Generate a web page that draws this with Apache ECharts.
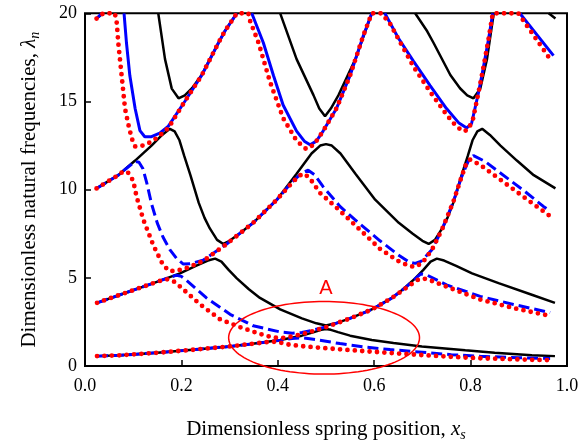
<!DOCTYPE html>
<html><head><meta charset="utf-8">
<script src="https://cdn.jsdelivr.net/npm/echarts/dist/echarts.min.js"></script>
<style>html,body{margin:0;padding:0;background:#fff}#c{width:583px;height:447px}</style>
</head><body><div id="c"></div>
<script>
// ---- axis ticks ----
const xTickValues = [0, 0.2, 0.4, 0.6, 0.8, 1.0];
const yTickValues = [0, 5, 10, 15, 20];

// ---- black solid (symmetric model), modes 1..4 ----
const black1 = [[0.025,0.56],[0.073,0.61],[0.15,0.75],[0.211,0.89],[0.301,1.11],[0.36,1.3],[0.405,1.47],[0.45,1.72],[0.475,1.92],[0.49,2.05],[0.5,2.1],[0.51,2.05],[0.525,1.92],[0.55,1.72],[0.595,1.47],[0.64,1.3],[0.699,1.11],[0.789,0.89],[0.85,0.75],[0.927,0.61],[0.975,0.56]];
const black2 = [[0.025,3.58],[0.073,4.04],[0.142,4.7],[0.197,5.25],[0.23,5.68],[0.255,5.98],[0.27,6.09],[0.283,5.92],[0.298,5.45],[0.315,4.97],[0.34,4.35],[0.363,3.86],[0.405,3.21],[0.45,2.7],[0.48,2.42],[0.5,2.3],[0.52,2.42],[0.55,2.7],[0.595,3.21],[0.637,3.86],[0.66,4.35],[0.685,4.97],[0.702,5.45],[0.717,5.92],[0.73,6.09],[0.745,5.98],[0.77,5.68],[0.803,5.25],[0.858,4.7],[0.927,4.04],[0.975,3.58]];
const black3 = [[0.024,10.07],[0.069,10.82],[0.104,11.65],[0.138,12.5],[0.16,13.1],[0.176,13.45],[0.186,13.3],[0.196,12.8],[0.206,11.9],[0.219,10.8],[0.236,9.25],[0.248,8.4],[0.259,7.8],[0.274,7.15],[0.287,6.92],[0.3,7.1],[0.32,7.5],[0.349,8.12],[0.398,9.43],[0.439,10.9],[0.47,12.05],[0.488,12.5],[0.5,12.58],[0.512,12.5],[0.53,12.05],[0.561,10.9],[0.602,9.43],[0.651,8.12],[0.68,7.5],[0.7,7.1],[0.713,6.92],[0.726,7.15],[0.741,7.8],[0.752,8.4],[0.764,9.25],[0.781,10.8],[0.794,11.9],[0.804,12.8],[0.814,13.3],[0.824,13.45],[0.84,13.1],[0.862,12.5],[0.896,11.65],[0.931,10.82],[0.976,10.07]];
const black4 = [[0.024,19.7],[0.038,20],[0.09,'-'],[0.152,20],[0.166,17.4],[0.18,15.73],[0.194,15.18],[0.207,15.35],[0.222,15.75],[0.242,16.5],[0.277,18.33],[0.29,18.98],[0.315,20],[0.36,'-'],[0.405,20],[0.439,17.4],[0.474,15.36],[0.486,14.6],[0.498,14.16],[0.51,14.6],[0.526,15.36],[0.561,17.4],[0.595,20],[0.64,'-'],[0.685,20],[0.71,18.98],[0.723,18.33],[0.758,16.5],[0.778,15.75],[0.793,15.35],[0.806,15.18],[0.82,15.73],[0.834,17.4],[0.848,20],[0.9,'-'],[0.962,20],[0.976,19.7]];

// ---- blue model: modes 1-3 dashed, mode 4 solid ----
const blue1 = [[0.025,0.56],[0.073,0.61],[0.15,0.75],[0.211,0.89],[0.301,1.11],[0.36,1.3],[0.405,1.46],[0.43,1.56],[0.45,1.6],[0.47,1.53],[0.5,1.4],[0.529,1.27],[0.58,1.08],[0.633,0.93],[0.7,0.78],[0.76,0.64],[0.82,0.55],[0.9,0.47],[0.965,0.43]];
const blue2 = [[0.025,3.58],[0.073,4.04],[0.142,4.7],[0.175,5.02],[0.19,5.15],[0.2,5.08],[0.211,4.85],[0.252,3.86],[0.301,2.93],[0.349,2.28],[0.405,1.93],[0.43,1.86],[0.45,1.9],[0.47,2.02],[0.5,2.22],[0.55,2.7],[0.595,3.2],[0.637,3.86],[0.665,4.45],[0.685,4.95],[0.697,5.22],[0.71,5.15],[0.75,4.6],[0.82,3.95],[0.889,3.49],[0.965,3.03]];
const blue3 = [[0.024,10.07],[0.069,10.82],[0.09,11.3],[0.104,11.6],[0.112,11.55],[0.12,11.2],[0.128,10.4],[0.138,9.2],[0.15,8.1],[0.162,7.3],[0.176,6.6],[0.19,6.1],[0.204,5.78],[0.218,5.8],[0.245,6.0],[0.294,6.92],[0.349,8.12],[0.398,9.43],[0.43,10.45],[0.45,10.95],[0.463,11.1],[0.476,10.85],[0.494,10.17],[0.529,9.05],[0.56,8.3],[0.612,7.1],[0.65,6.3],[0.672,5.9],[0.685,5.82],[0.698,5.95],[0.72,6.6],[0.741,7.76],[0.764,9.3],[0.781,10.7],[0.795,11.6],[0.806,11.93],[0.83,11.6],[0.854,11.1],[0.909,9.98],[0.951,9.05],[0.965,8.78]];
const blue4 = [[0.024,19.7],[0.035,20],[0.06,'-'],[0.081,20],[0.086,18.33],[0.093,16.47],[0.104,14.6],[0.114,13.35],[0.124,13.0],[0.138,13.0],[0.155,13.2],[0.173,13.6],[0.207,15.0],[0.242,16.47],[0.277,18.33],[0.29,18.98],[0.315,20],[0.33,'-'],[0.346,20],[0.37,18.33],[0.391,16.47],[0.411,14.8],[0.439,13.32],[0.455,12.75],[0.467,12.54],[0.48,12.75],[0.494,13.32],[0.522,14.62],[0.55,16.47],[0.577,18.7],[0.595,20],[0.61,'-'],[0.622,20],[0.65,18.6],[0.681,17.3],[0.716,15.9],[0.75,14.6],[0.775,13.8],[0.792,13.5],[0.802,13.75],[0.816,15.45],[0.826,16.85],[0.837,18.5],[0.846,20],[0.87,'-'],[0.902,20],[0.972,17.6]];

// ---- red dotted model, modes 1..4 ----
const red1 = [[0.025,0.56],[0.073,0.61],[0.15,0.75],[0.211,0.89],[0.301,1.11],[0.36,1.3],[0.38,1.36],[0.395,1.38],[0.41,1.3],[0.425,1.2],[0.46,1.1],[0.494,1.02],[0.55,0.9],[0.633,0.74],[0.7,0.62],[0.76,0.52],[0.82,0.44],[0.9,0.37],[0.965,0.33]];
const red2 = [[0.025,3.58],[0.073,4.04],[0.142,4.7],[0.16,4.87],[0.172,4.92],[0.185,4.78],[0.197,4.51],[0.239,3.49],[0.28,2.65],[0.322,2.2],[0.349,1.95],[0.37,1.76],[0.39,1.62],[0.405,1.58],[0.42,1.62],[0.45,1.8],[0.5,2.2],[0.55,2.7],[0.595,3.2],[0.637,3.86],[0.67,4.5],[0.69,4.88],[0.702,4.97],[0.72,4.82],[0.75,4.5],[0.82,3.77],[0.89,3.28],[0.965,2.84]];
const red3 = [[0.024,10.07],[0.069,10.82],[0.08,11.05],[0.09,10.95],[0.1,10.5],[0.107,9.6],[0.121,8.3],[0.142,6.83],[0.162,5.72],[0.175,5.38],[0.19,5.4],[0.21,5.55],[0.245,5.95],[0.294,6.92],[0.349,8.12],[0.398,9.43],[0.43,10.4],[0.445,10.8],[0.456,10.9],[0.47,10.5],[0.488,9.8],[0.519,9.05],[0.56,8.0],[0.612,6.64],[0.65,5.95],[0.672,5.68],[0.685,5.62],[0.7,5.85],[0.72,6.6],[0.741,7.76],[0.764,9.3],[0.781,10.7],[0.79,11.4],[0.799,11.7],[0.82,11.4],[0.854,10.72],[0.909,9.61],[0.937,9.05],[0.965,8.5]];
const red4 = [[0.024,19.7],[0.038,20],[0.062,20],[0.066,19.44],[0.069,18.33],[0.076,16.47],[0.083,14.6],[0.09,13.69],[0.097,12.9],[0.104,12.45],[0.114,12.45],[0.13,12.6],[0.15,12.95],[0.173,13.5],[0.207,15.0],[0.242,16.47],[0.277,18.33],[0.29,18.98],[0.315,20],[0.339,20],[0.342,19.6],[0.36,18.33],[0.384,16.1],[0.411,14.06],[0.439,12.77],[0.459,12.3],[0.475,12.55],[0.494,13.32],[0.522,14.62],[0.55,16.47],[0.577,18.7],[0.595,20],[0.615,20],[0.633,19.4],[0.681,17.0],[0.716,15.55],[0.75,14.25],[0.77,13.6],[0.785,13.3],[0.795,13.4],[0.805,14.0],[0.816,15.45],[0.826,16.85],[0.837,18.5],[0.846,20],[0.899,20],[0.965,17.4]];

// ---- annotation (data coordinates) ----
const ellipseCenter = [0.496, 1.6];
const ellipseRadii = [0.198, 2.06];
const annotLabel = 'A';
const annotPos = [0.50, 4.4];

const serif = 'Liberation Serif';
const BLACK = {color:'#000000', width:2.5, type:'solid'};
const BLUE_SOLID = {color:'#0000ff', width:3, type:'solid'};
const BLUE_DASH = {color:'#0000ff', width:3, type:[11,5]};
const RED_DOT = {color:'#ff0000', width:4.8, type:[0,7.4], cap:'round'};

function mk(data, ls, z){
  return {type:'line', data:data, symbol:'none', showSymbol:false, smooth:false,
    lineStyle:Object.assign({}, ls), itemStyle:{color:ls.color}, z:z, connectNulls:false,
    silent:true, animation:false};
}

const chart = echarts.init(document.getElementById('c'), null, {renderer:'canvas'});
const option = {
  animation:false,
  backgroundColor:'#ffffff',
  grid:{left:85, right:16, top:13.3, bottom:74.3, show:true, borderColor:'#000', borderWidth:2, backgroundColor:'transparent'},
  xAxis:{type:'value', min:xTickValues[0], max:xTickValues[xTickValues.length-1], interval:xTickValues[1]-xTickValues[0],
    axisLine:{show:false}, splitLine:{show:false},
    axisTick:{show:true, inside:true, length:6, lineStyle:{color:'#000', width:1.5}},
    axisLabel:{fontFamily:serif, fontSize:18, color:'#000', margin:11, formatter:v=>v.toFixed(1)},
    name:'Dimensionless spring position, {i|x}{sub|s}', nameLocation:'middle', nameGap:50,
    nameTextStyle:{fontFamily:serif, fontSize:21, color:'#000', lineHeight:26,
      rich:{i:{fontFamily:serif, fontSize:21, fontStyle:'italic', color:'#000', lineHeight:26},
            sub:{fontFamily:serif, fontSize:14, fontStyle:'italic', color:'#000', lineHeight:14, verticalAlign:'bottom'}}}
  },
  yAxis:{type:'value', min:yTickValues[0], max:yTickValues[yTickValues.length-1], interval:yTickValues[1]-yTickValues[0],
    axisLine:{show:false}, splitLine:{show:false},
    axisTick:{show:true, inside:true, length:6, lineStyle:{color:'#000', width:1.5}},
    axisLabel:{fontFamily:serif, fontSize:18, color:'#000', margin:8},
    name:'Dimensionless natural frequencies, {i|λ}{sub|n}', nameLocation:'middle', nameGap:43, nameRotate:90,
    nameTextStyle:{fontFamily:serif, fontSize:21, color:'#000', lineHeight:26,
      rich:{i:{fontFamily:serif, fontSize:21, fontStyle:'italic', color:'#000', lineHeight:26},
            sub:{fontFamily:serif, fontSize:14, fontStyle:'italic', color:'#000', lineHeight:14, verticalAlign:'bottom'}}}
  },
  series:[
    mk(black1, BLACK, 2), mk(black2, BLACK, 2), mk(black3, BLACK, 2), mk(black4, BLACK, 2),
    mk(blue1, BLUE_DASH, 3), mk(blue2, BLUE_DASH, 3), mk(blue3, BLUE_DASH, 3), mk(blue4, BLUE_SOLID, 3),
    mk(red1, RED_DOT, 4), mk(red2, RED_DOT, 4), mk(red3, RED_DOT, 4), mk(red4, RED_DOT, 4)
  ]
};
chart.setOption(option);

// annotation ellipse + label positioned via the axes
const c0 = chart.convertToPixel({gridIndex:0}, ellipseCenter);
const cx1 = chart.convertToPixel({gridIndex:0}, [ellipseCenter[0]+ellipseRadii[0], ellipseCenter[1]]);
const cy1 = chart.convertToPixel({gridIndex:0}, [ellipseCenter[0], ellipseCenter[1]+ellipseRadii[1]]);
const rx = Math.abs(cx1[0]-c0[0]), ry = Math.abs(c0[1]-cy1[1]);
const pts = [];
for (let k=0;k<120;k++){ const t=k/120*Math.PI*2; pts.push([c0[0]+rx*Math.cos(t), c0[1]+ry*Math.sin(t)]); }
const ap = chart.convertToPixel({gridIndex:0}, annotPos);
chart.setOption({graphic:[
  {type:'polygon', shape:{points:pts}, style:{fill:'none', stroke:'#ff0000', lineWidth:1.5}, z:10, silent:true},
  {type:'text', x:ap[0], y:ap[1], style:{text:annotLabel, fill:'#ff0000', font:'20px "Liberation Sans"', textAlign:'center', textVerticalAlign:'middle'}, z:10, silent:true}
]});
</script></body></html>
